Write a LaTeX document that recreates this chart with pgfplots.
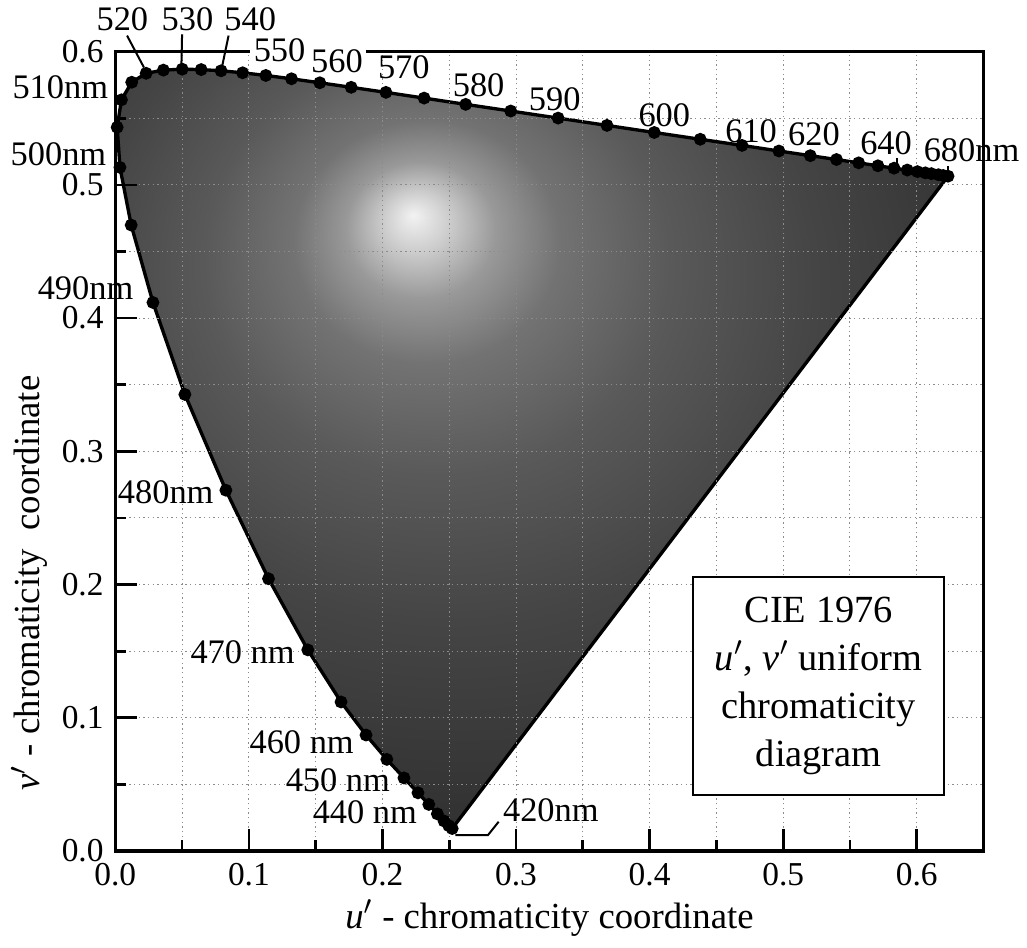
\documentclass[border=0pt]{standalone}
\usepackage{fontspec}
\setmainfont{Liberation Serif}
\usepackage{pgfplots}
\usepackage{pgfplotstable}
\pgfplotsset{compat=1.18}

% spectral locus, CIE 1976 u' v' (5 nm steps)
\pgfplotstableread{
lambda u v
420 0.2522 0.0169
425 0.2496 0.0191
430 0.2461 0.0226
435 0.2411 0.0279
440 0.2347 0.0350
445 0.2266 0.0437
450 0.2161 0.0549
455 0.2033 0.0688
460 0.1877 0.0871
465 0.1690 0.1119
470 0.1441 0.1510
475 0.1147 0.2044
480 0.0828 0.2708
485 0.0521 0.3427
490 0.0282 0.4117
495 0.0119 0.4698
500 0.0035 0.5131
505 0.0014 0.5432
510 0.0046 0.5638
515 0.0123 0.5770
520 0.0231 0.5837
525 0.0360 0.5861
530 0.0501 0.5868
535 0.0643 0.5865
540 0.0792 0.5856
545 0.0953 0.5841
550 0.1127 0.5821
555 0.1319 0.5796
560 0.1531 0.5766
565 0.1766 0.5732
570 0.2026 0.5694
575 0.2312 0.5651
580 0.2623 0.5604
585 0.2960 0.5554
590 0.3315 0.5501
595 0.3681 0.5446
600 0.4035 0.5393
605 0.4379 0.5342
610 0.4692 0.5296
615 0.4968 0.5254
620 0.5203 0.5219
625 0.5399 0.5190
630 0.5565 0.5165
635 0.5709 0.5143
640 0.5830 0.5125
645 0.5929 0.5111
650 0.6005 0.5099
655 0.6064 0.5090
660 0.6109 0.5084
670 0.6162 0.5076
680 0.6199 0.5070
700 0.6234 0.5065
}\locus

% grey rendering of the colour fill, bright near the white point
\pgfdeclareradialshading{cieglow}{\pgfpoint{-7.2bp}{15.4bp}}{%
  color(0bp)=(black!5); color(2bp)=(black!20); color(4.5bp)=(black!40);
  color(8bp)=(black!55); color(14bp)=(black!65); color(22bp)=(black!73);
  color(32bp)=(black!80); color(45bp)=(black!85); color(70bp)=(black!86)}

\begin{document}
\begin{tikzpicture}[
  wl/.style={font=\fontsize{10.3}{12}\selectfont, inner sep=1pt},
  lead/.style={black, line width=0.6pt}]
\begin{axis}[
  scale only axis, width=260pt, height=239.4pt,
  xmin=0, xmax=0.65, ymin=0, ymax=0.6,
  xtick={0,0.1,0.2,0.3,0.4,0.5,0.6},
  ytick={0,0.1,0.2,0.3,0.4,0.5,0.6},
  minor xtick={0.05,0.15,0.25,0.35,0.45,0.55},
  minor ytick={0.05,0.15,0.25,0.35,0.45,0.55},
  xtick pos=bottom, ytick pos=left, tick align=inside,
  major tick length=6.6pt, minor tick length=3.3pt,
  every tick/.style={black, line width=0.8pt},
  axis line style={line width=1pt},
  grid=both,
  major grid style={black!45, densely dotted, line width=0.3pt},
  minor grid style={black!45, densely dotted, line width=0.3pt},
  axis on top,
  tick label style={font=\fontsize{10}{12}\selectfont},
  /pgf/number format/fixed, /pgf/number format/fixed zerofill,
  /pgf/number format/precision=1, /pgf/number format/assume math mode=true,
  xlabel={\textit{u}$'$ - chromaticity coordinate},
  ylabel={\textit{v}$'$ - chromaticity\ \ coordinate},
  label style={font=\fontsize{11}{13}\selectfont},
  ylabel style={at={(ticklabel cs:0.335)}},
  xlabel shift=-2.5pt, ylabel shift=-2.5pt,
  clip=false,
]
\addplot[draw=none, shading=cieglow] table[x=u, y=v] {\locus} -- cycle;
\addplot[black, line width=1pt] coordinates {(0.2522,0.0169) (0.6234,0.5065)};
\addplot[black, line width=1pt, mark=*, mark size=1.4pt] table[x=u, y=v] {\locus};

\coordinate (p420) at (axis cs:0.2545,0.012);
\coordinate (k420a) at (axis cs:0.279,0.012);
\coordinate (k420b) at (axis cs:0.287,0.022);
\coordinate (t420) at (axis cs:0.2873,0.0309);
\coordinate (t440) at (axis cs:0.2288,0.0294);
\coordinate (t450) at (axis cs:0.2086,0.0535);
\coordinate (t460) at (axis cs:0.1815,0.082);
\coordinate (t470) at (axis cs:0.1373,0.149);
\coordinate (t480) at (axis cs:0.0765,0.2696);
\coordinate (t490) at (axis cs:0.0165,0.4224);
\coordinate (t500) at (axis cs:-0.0038,0.5226);
\coordinate (t510) at (axis cs:-0.0024,0.573);
\coordinate (t520) at (axis cs:0.0053,0.624);
\coordinate (t530) at (axis cs:0.054,0.624);
\coordinate (t540) at (axis cs:0.101,0.624);
\coordinate (a520) at (axis cs:0.0088,0.612);
\coordinate (b520) at (axis cs:0.0215,0.588);
\coordinate (a530) at (axis cs:0.0500,0.613);
\coordinate (b530) at (axis cs:0.0495,0.590);
\coordinate (a540) at (axis cs:0.0848,0.612);
\coordinate (b540) at (axis cs:0.0800,0.589);
\coordinate (t550) at (axis cs:0.123,0.601);
\coordinate (t560) at (axis cs:0.166,0.593);
\coordinate (t570) at (axis cs:0.216,0.588);
\coordinate (t580) at (axis cs:0.272,0.575);
\coordinate (t590) at (axis cs:0.329,0.564);
\coordinate (t600) at (axis cs:0.411,0.552);
\coordinate (t610) at (axis cs:0.476,0.540);
\coordinate (t620) at (axis cs:0.523,0.538);
\coordinate (a620) at (axis cs:0.521,0.5256);
\coordinate (b620) at (axis cs:0.521,0.518);
\coordinate (t640) at (axis cs:0.577,0.531);
\coordinate (a640) at (axis cs:0.5855,0.520);
\coordinate (b640) at (axis cs:0.5855,0.511);
\coordinate (t680) at (axis cs:0.641,0.5256);
\coordinate (a680) at (axis cs:0.6234,0.5138);
\coordinate (b680) at (axis cs:0.6234,0.5065);
\coordinate (box) at (axis cs:0.5266,0.1239);
\end{axis}

% wavelength labels and the caption box sit above the axis lines
\draw[lead] (p420) -- (k420a) -- (k420b);
\node[wl, anchor=west] at (t420) {420nm};
\node[wl, anchor=east] at (t440) {440 nm};
\node[wl, anchor=east] at (t450) {450 nm};
\node[wl, anchor=east] at (t460) {460 nm};
\node[wl, anchor=east] at (t470) {470 nm};
\node[wl, anchor=east] at (t480) {480nm};
\node[wl, anchor=east] at (t490) {490nm};
\node[wl, anchor=east] at (t500) {500nm};
\node[wl, anchor=east] at (t510) {510nm};
\draw[lead] (a520) -- (b520);
\draw[lead] (a530) -- (b530);
\draw[lead] (a540) -- (b540);
\node[wl] at (t520) {520};
\node[wl] at (t530) {530};
\node[wl] at (t540) {540};
\node[wl, fill=white] at (t550) {550};
\node[wl, fill=white] at (t560) {560};
\node[wl] at (t570) {570};
\node[wl] at (t580) {580};
\node[wl] at (t590) {590};
\node[wl] at (t600) {600};
\node[wl] at (t610) {610};
\node[wl] at (t620) {620};
\draw[lead] (a620) -- (b620);
\node[wl] at (t640) {640};
\draw[lead] (a640) -- (b640);
\node[wl] at (t680) {680nm};
\draw[lead] (a680) -- (b680);
\node[draw, fill=white, line width=0.6pt, align=center,
      minimum width=75pt, minimum height=65pt,
      font=\fontsize{11.5}{14.4}\selectfont] at (box)
  {CIE 1976\\ \textit{u}$'$, \textit{v}$'$ uniform\\ chromaticity\\ diagram};
% a little white margin at the top and right, as in the reference
\path ([yshift=1.4pt]current bounding box.north west);
\path ([xshift=1.3pt]current bounding box.south east);
\end{tikzpicture}
\end{document}
